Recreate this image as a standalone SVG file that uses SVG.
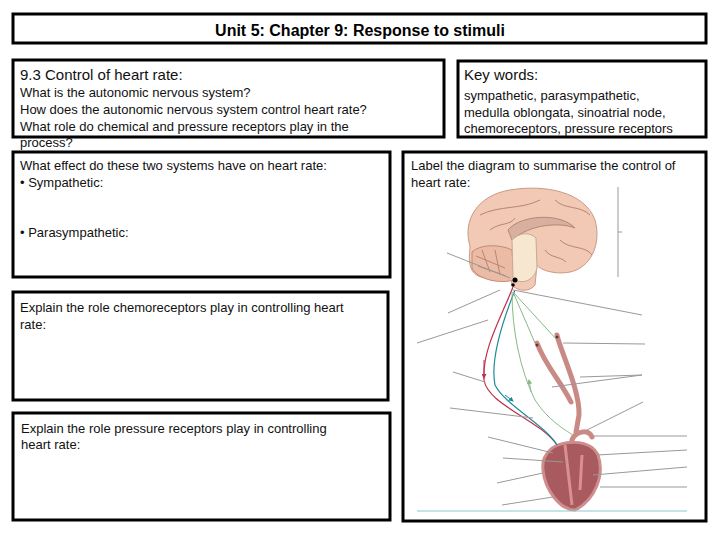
<svg xmlns="http://www.w3.org/2000/svg" width="720" height="540" viewBox="0 0 720 540">
<style>
.box{fill:#fff;stroke:#000;stroke-width:3}
.t{font-family:"Liberation Sans",Arial,sans-serif;font-size:13px;fill:#111}
.h{font-size:15px}
.lbl{stroke:#999;stroke-width:1;fill:none}
.brain{fill:#f2c9b4;stroke:#c99a86;stroke-width:1}
.fold{fill:none;stroke:#b88672;stroke-width:1}
.vs{fill:none;stroke:#c98a86;stroke-width:5;stroke-linecap:round;stroke-linejoin:round}
</style>
<defs>
<marker id="ar" viewBox="0 0 10 10" refX="8" refY="5" markerWidth="5" markerHeight="5" orient="auto"><path d="M0,0L10,5L0,10z" fill="context-stroke"/></marker>
</defs>
<rect width="720" height="540" fill="#fff"/>
<g id="title"><rect class="box" x="13" y="14" width="693" height="29"/>
<text x="360" y="36" text-anchor="middle" font-family="Liberation Sans,Arial,sans-serif" font-weight="bold" font-size="16">Unit 5: Chapter 9: Response to stimuli</text></g>
<g id="intro"><rect class="box" x="13" y="60" width="431" height="77"/>
<text class="t h" x="20" y="80">9.3 Control of heart rate:</text>
<text class="t" x="20" y="97">What is the autonomic nervous system?</text>
<text class="t" x="20" y="114">How does the autonomic nervous system control heart rate?</text>
<text class="t" x="20" y="131">What role do chemical and pressure receptors play in the</text>
<text class="t" x="20" y="147">process?</text></g>
<g id="keywords"><rect class="box" x="458" y="61" width="248" height="76"/>
<text class="t h" x="464" y="80">Key words:</text>
<text class="t" x="464" y="100">sympathetic, parasympathetic,</text>
<text class="t" x="464" y="117">medulla oblongata, sinoatrial node,</text>
<text class="t" x="464" y="133">chemoreceptors, pressure receptors</text></g>
<g id="effects"><rect class="box" x="13" y="152" width="377" height="125"/>
<text class="t" x="20" y="170">What effect do these two systems have on heart rate:</text>
<text class="t" x="20" y="187">•  Sympathetic:</text>
<text class="t" x="20" y="237">•  Parasympathetic:</text></g>
<g id="chemo"><rect class="box" x="13" y="292" width="375" height="108"/>
<text class="t" x="20" y="312">Explain the role chemoreceptors play in controlling heart</text>
<text class="t" x="20" y="329">rate:</text></g>
<g id="pressure"><rect class="box" x="13" y="413" width="377" height="107"/>
<text class="t" x="21" y="433">Explain the role pressure receptors play in controlling</text>
<text class="t" x="21" y="449">heart rate:</text></g>
<g id="diagram"><rect class="box" x="403" y="152" width="303" height="369"/>
<text class="t" x="411" y="170">Label the diagram to summarise the control of</text>
<text class="t" x="411" y="187">heart rate:</text>
<path class="brain" d="M470,246 C462,220 478,195 510,190 C545,184 585,192 595,220 C602,245 590,268 570,272 C555,275 540,270 537,265 L535,285 C530,292 518,292 512,285 L510,270 C495,282 475,280 471,268 C468,260 470,252 470,246 Z"/>
<path d="M472,252 C480,244 500,244 512,250 L514,280 C500,284 478,280 472,268 Z" fill="#ecbba6" stroke="#c08a78"/>
<path class="fold" d="M476,256 L505,268 M482,250 L490,272 M495,250 L500,275 M478,266 L506,276"/>
<path d="M508,230 C520,215 560,212 575,228 C560,222 530,224 512,240 Z" fill="#d8b0a0" stroke="#b88672"/>
<path d="M512,240 C520,232 530,232 536,238 L537,268 C534,282 520,285 513,278 Z" fill="#f7e7d0" stroke="#c9a990"/>
<path class="fold" d="M480,215 C500,205 520,210 540,200 M555,200 C565,210 580,205 590,215 M490,230 C500,222 510,226 515,218 M560,240 C570,250 585,245 592,255 M545,250 C550,258 560,256 566,262"/>
<path class="vs" d="M557,335 C560,350 580,390 579,415 L576,432 M571,402 C560,380 545,365 537,343 M572,440 C575,432 588,428 592,437"/>
<circle cx="557" cy="337" r="1.5" fill="#6b3030"/><circle cx="537" cy="345" r="1.5" fill="#6b3030"/>
<path d="M550,450 C560,440 590,438 598,455 C605,475 595,500 575,510 C560,510 545,490 543,470 C542,460 545,455 550,450 Z" fill="#a85a5e" stroke="#cf8c8c" stroke-width="3"/>
<path d="M565,445 L572,505 M582,455 L580,490" stroke="#d89090" stroke-width="3" fill="none"/>
<g id="connectors" fill="none">
<circle cx="515" cy="280" r="2.5" fill="#000"/><circle cx="513" cy="285" r="1.8" fill="#000"/>
<path d="M513,287 C500,320 482,350 484,380 C488,405 540,420 557,445" stroke="#c0304a" stroke-width="1.2"/>
<path d="M484,360 L484,378" stroke="#c0304a" marker-end="url(#ar)"/>
<path d="M515,290 C503,320 490,360 495,385 C505,405 545,425 557,445" stroke="#1f8a9a" stroke-width="1.2"/>
<path d="M505,395 L513,401" stroke="#1f8a9a" marker-end="url(#ar)"/>
<path d="M512,292 C512,330 520,370 535,400 C548,420 565,430 573,435" stroke="#8ab88a" stroke-width="1"/>
<path d="M531,392 L529,380" stroke="#8ab88a" marker-end="url(#ar)"/>
<path d="M513,292 L557,340 M513,292 L535,343" stroke="#8ab88a" stroke-width="1"/>
</g>
<g id="labels">
<path class="lbl" d="M447,253L510,278M448,313L500,290M417,343L488,320M453,372L485,382M450,408L533,418M488,437L553,453M503,458L563,462M497,483L543,473M502,505L553,497M513,290L642,315M563,343L645,344M552,387L642,375M580,377L642,375M587,430L643,402M593,436L687,436M597,455L687,450M593,475L687,467M600,487L687,487M618,187L618,277M618,232L622,232"/>
<path d="M417,511L687,511" stroke="#8cc" stroke-width="1"/>
</g></g>
</svg>
